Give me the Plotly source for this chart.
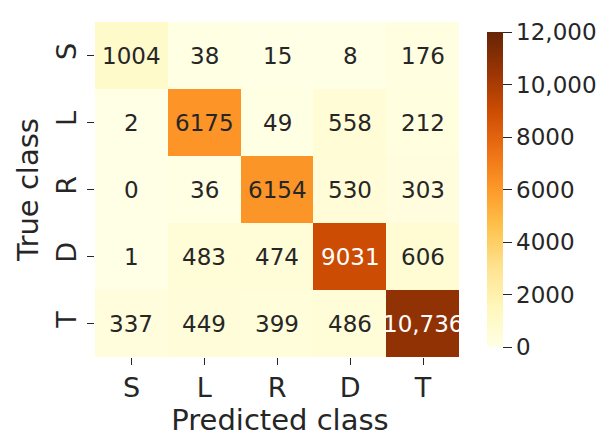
import plotly.graph_objects as go

classes = ["S", "L", "R", "D", "T"]
values = [
    [1004, 38, 15, 8, 176],
    [2, 6175, 49, 558, 212],
    [0, 36, 6154, 530, 303],
    [1, 483, 474, 9031, 606],
    [337, 449, 399, 486, 10736],
]
cbar_vals = [0, 2000, 4000, 6000, 8000, 10000, 12000]
cbar_text = ["0", "2000", "4000", "6000", "8000", "10,000", "12,000"]

colorscale = [
    [0.0, "#ffffe5"], [0.125, "#fff7bc"], [0.25, "#fee391"], [0.375, "#fec44f"],
    [0.5, "#fe9929"], [0.625, "#ec7014"], [0.75, "#cc4c02"], [0.875, "#993404"],
    [1.0, "#662506"],
]

FONT = "DejaVu Sans"
W, H = 598, 431  # page body has an 8px default margin

fig = go.Figure()
fig.add_trace(go.Heatmap(
    z=values, x=classes, y=classes,
    zmin=0, zmax=12000, colorscale=colorscale,
    hoverinfo="skip",
    colorbar=dict(
        thickness=16, len=1, lenmode="fraction", y=0.5, yanchor="middle",
        x=479/W, xref="container", xanchor="left", xpad=0, outlinewidth=0,
        tickvals=cbar_vals, ticktext=cbar_text, ticks="outside", ticklen=9,
        tickcolor="#262626", tickwidth=1.2,
        tickfont=dict(family=FONT, size=23, color="#262626"),
    ),
))

def fmt(v):
    return f"{v:,}" if v >= 10000 else str(v)

annots = []
for i, row in enumerate(values):
    for j, v in enumerate(row):
        annots.append(dict(
            x=classes[j], y=classes[i], text=fmt(v), showarrow=False,
            font=dict(family=FONT, size=23, color="white" if v > 8000 else "#262626"),
        ))

fig.update_layout(
    width=W, height=H,
    margin=dict(l=87, r=141, t=14, b=82),
    paper_bgcolor="white", plot_bgcolor="white",
    annotations=annots,
    font=dict(family=FONT, color="#262626"),
    xaxis=dict(
        title=dict(text="Predicted class", font=dict(family=FONT, size=29, color="#262626"), standoff=6),
        tickfont=dict(family=FONT, size=27, color="#262626"),
        ticks="outside", ticklen=7, tickcolor="#262626", tickwidth=1.2,
        showgrid=False, zeroline=False, showline=False, automargin=False,
    ),
    yaxis=dict(
        title=dict(text="True class", font=dict(family=FONT, size=29, color="#262626"), standoff=4),
        tickfont=dict(family=FONT, size=27, color="#262626"),
        tickangle=-90, autorange="reversed",
        ticks="outside", ticklen=7, tickcolor="#262626", tickwidth=1.2,
        showgrid=False, zeroline=False, showline=False, automargin=False,
    ),
)

fig.write_html("out.html")
